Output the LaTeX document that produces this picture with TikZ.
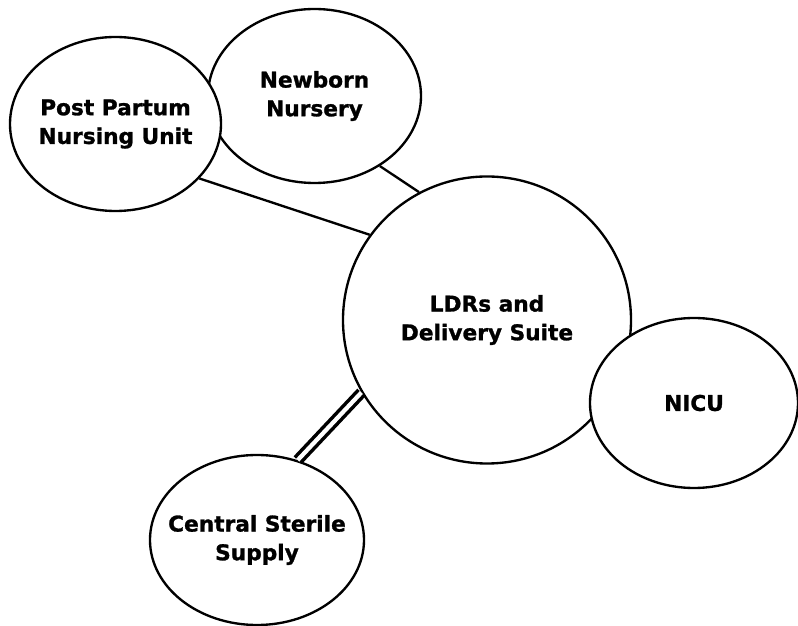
\documentclass[tikz,border=0pt]{standalone}
\usepackage{fontspec}
\setmainfont{DejaVu Sans}[FakeBold=1.2]
\usetikzlibrary{shapes.geometric}

\begin{document}
\begin{tikzpicture}[x=0.03cm, y=-0.03cm]
        % Define styles for nodes and edges
        \tikzstyle{room} = [ellipse, draw, fill=white, line width=2pt, inner sep=0pt]
        \tikzstyle{tag} = [align=center, font=\fontsize{18.5pt}{24.5pt}\selectfont\bfseries]
        \tikzstyle{link} = [line width=2pt]
        \tikzstyle{dbllink} = [line width=3pt, double, double distance=3.6pt]

        \useasboundingbox (0,0) rectangle (798,626);

        % Nodes (later ones sit on top)
        \node[room, minimum width=6.39cm, minimum height=5.22cm] (nb) at (314.5,96) {};
        \node[room, minimum width=6.33cm, minimum height=5.22cm] (pp) at (115.5,124) {};
        \node[room, minimum width=8.64cm, minimum height=8.61cm] (ldr) at (487,320) {};
        \node[room, minimum width=6.24cm, minimum height=5.10cm] (nicu) at (694,403) {};
        \node[room, minimum width=6.42cm, minimum height=5.10cm] (css) at (257,540) {};

        % Labels
        \node[tag] (pptext) at (pp.center) {Post Partum\\Nursing Unit};
        \node[tag] (nbtext) at (nb.center) {Newborn\\Nursery};
        \node[tag] (ldrtext) at (ldr.center) {LDRs and\\Delivery Suite};
        \node[tag] (nicutext) at (nicu.center) {NICU};
        \node[tag] (csstext) at (css.center) {Central Sterile\\Supply};

        % Links
        \draw[link] (pp.-33) -- (ldr.144);
        \draw[link] (nb.-47) -- (ldr.118);
        \draw[dbllink] (ldr.210) -- (css.63);
\end{tikzpicture}
\end{document}
